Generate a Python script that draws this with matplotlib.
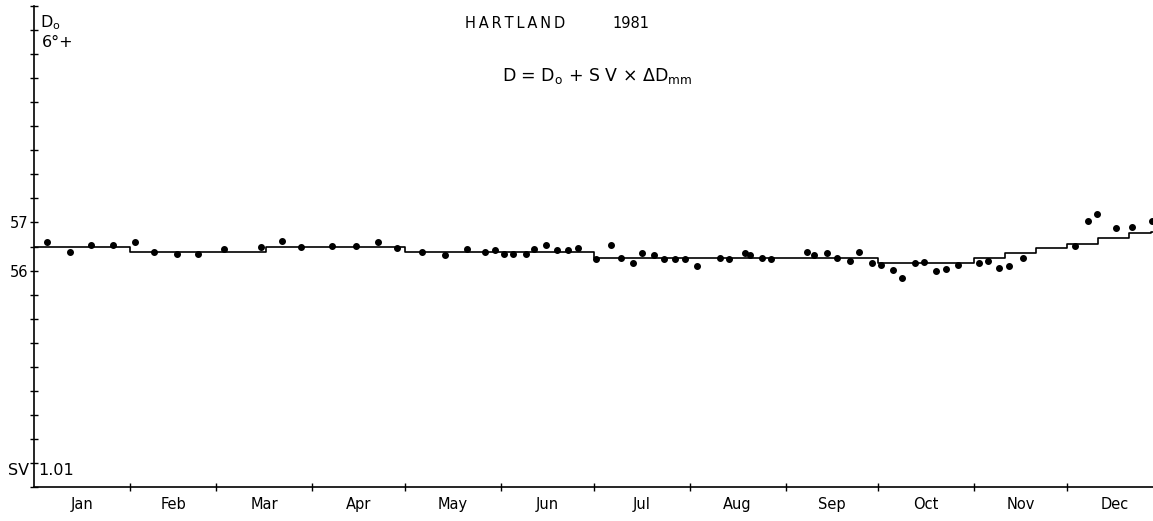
import numpy as np
import matplotlib.pyplot as plt

# Hartland 1981 declination
# x = day of year, y = D in minutes above 6 degrees (scale units)
obs_day = [4.3, 11.7, 18.5, 25.6, 32.7, 38.8, 46.1, 52.9, 61.4, 73.3, 80.3, 86.3,
           96.3, 104.1, 111.3, 117.3, 125.3, 132.9, 140.1, 145.7, 149.0, 152.0,
           154.9, 159.0, 161.8, 165.4, 169.1, 172.5, 175.8, 181.6, 186.4, 189.8,
           193.6, 196.7, 200.6, 203.7, 207.3, 210.5, 214.4, 221.8, 224.7, 229.8,
           231.6, 235.4, 238.4, 249.9, 252.2, 256.3, 259.5, 263.8, 266.7, 270.8,
           273.9, 277.6, 280.7, 284.7, 287.6, 291.6, 295.0, 298.8, 305.4, 308.5,
           312.1, 315.1, 319.8, 336.6, 340.9, 343.8, 349.7, 354.9, 361.4]
obs_val = [56.60, 56.38, 56.53, 56.53, 56.60, 56.39, 56.34, 56.34, 56.44, 56.49, 56.62, 56.49,
           56.51, 56.52, 56.60, 56.47, 56.39, 56.32, 56.44, 56.38, 56.42, 56.35,
           56.34, 56.34, 56.45, 56.53, 56.42, 56.43, 56.47, 56.25, 56.53, 56.26,
           56.16, 56.36, 56.32, 56.24, 56.25, 56.25, 56.09, 56.27, 56.23, 56.36,
           56.32, 56.26, 56.23, 56.38, 56.32, 56.37, 56.27, 56.20, 56.39, 56.16,
           56.12, 56.01, 55.84, 56.16, 56.17, 56.00, 56.03, 56.12, 56.16, 56.20,
           56.06, 56.10, 56.27, 56.52, 57.03, 57.18, 56.88, 56.90, 57.04]

# baseline (step) values: start day and level
base_day = [0, 31, 75, 120, 181, 273, 304, 314, 324, 334, 344, 354, 361, 366]
base_val = [56.49, 56.38, 56.49, 56.38, 56.27, 56.16, 56.27, 56.36, 56.47, 56.56, 56.67, 56.78, 56.80, 56.80]

months = ['Jan', 'Feb', 'Mar', 'Apr', 'May', 'Jun', 'Jul', 'Aug', 'Sep', 'Oct', 'Nov', 'Dec']
month_len = [31, 28, 31, 30, 31, 30, 31, 31, 30, 31, 30, 31]

month_start = np.concatenate([[0], np.cumsum(month_len)])
month_mid = month_start[:-1] + np.array(month_len) / 2

fig = plt.figure(figsize=(11.53, 5.21), dpi=100)
ax = fig.add_axes([34 / 1153, 34 / 521, 1 - 34 / 1153, 481 / 521])

ax.step(base_day, base_val, where='post', color='black', lw=1.2)
ax.plot(obs_day, obs_val, 'o', color='black', ms=4, clip_on=False)

ax.set_xlim(0, 361.8)
ax.set_ylim(51.5, 61.5)

for s in ['top', 'right']:
    ax.spines[s].set_visible(False)
ax.spines['left'].set_linewidth(1.2)
ax.spines['bottom'].set_linewidth(1.2)

# y ticks every half unit, only 56 and 57 labelled
yt = np.arange(51.5, 61.51, 0.5)
ax.set_yticks(yt)
ax.set_yticklabels(['56' if v == 56 else '57' if v == 57 else '' for v in yt])
ax.tick_params(axis='y', direction='inout', length=6, width=1, labelsize=10.5, pad=1)

ax.set_xticks(month_start[1:-1])
ax.set_xticklabels([])
ax.set_xticks(month_mid, minor=True)
ax.set_xticklabels(months, minor=True)
ax.tick_params(axis='x', which='major', direction='inout', length=6, width=1)
ax.tick_params(axis='x', which='minor', length=0, labelsize=10.5, pad=7)

# axis annotations
ax.text(-0.004, 51.85, 'SV', transform=ax.get_yaxis_transform(), ha='right', va='center', fontsize=11.5)
ax.text(0.004, 51.85, '1.01', transform=ax.get_yaxis_transform(), ha='left', va='center', fontsize=11.5)
ax.text(0.005, 61.15, r'D$_\mathrm{o}$', transform=ax.get_yaxis_transform(), ha='left', va='center', fontsize=11.5)
ax.text(0.007, 60.75, '6\u00b0+', transform=ax.get_yaxis_transform(), ha='left', va='center', fontsize=11.5)

fig.text(0.447, 0.955, 'H\u2009A\u2009R\u2009T\u2009L\u2009A\u2009N\u2009D', ha='center', va='center', fontsize=10.5)
fig.text(0.547, 0.955, '1981', ha='center', va='center', fontsize=10.5)
fig.text(0.518, 0.855, r'D = D$_\mathrm{o}$ + S V $\times$ $\Delta$D$_\mathrm{mm}$',
         ha='center', va='center', fontsize=12.5)

plt.savefig('out.png', dpi=100)
